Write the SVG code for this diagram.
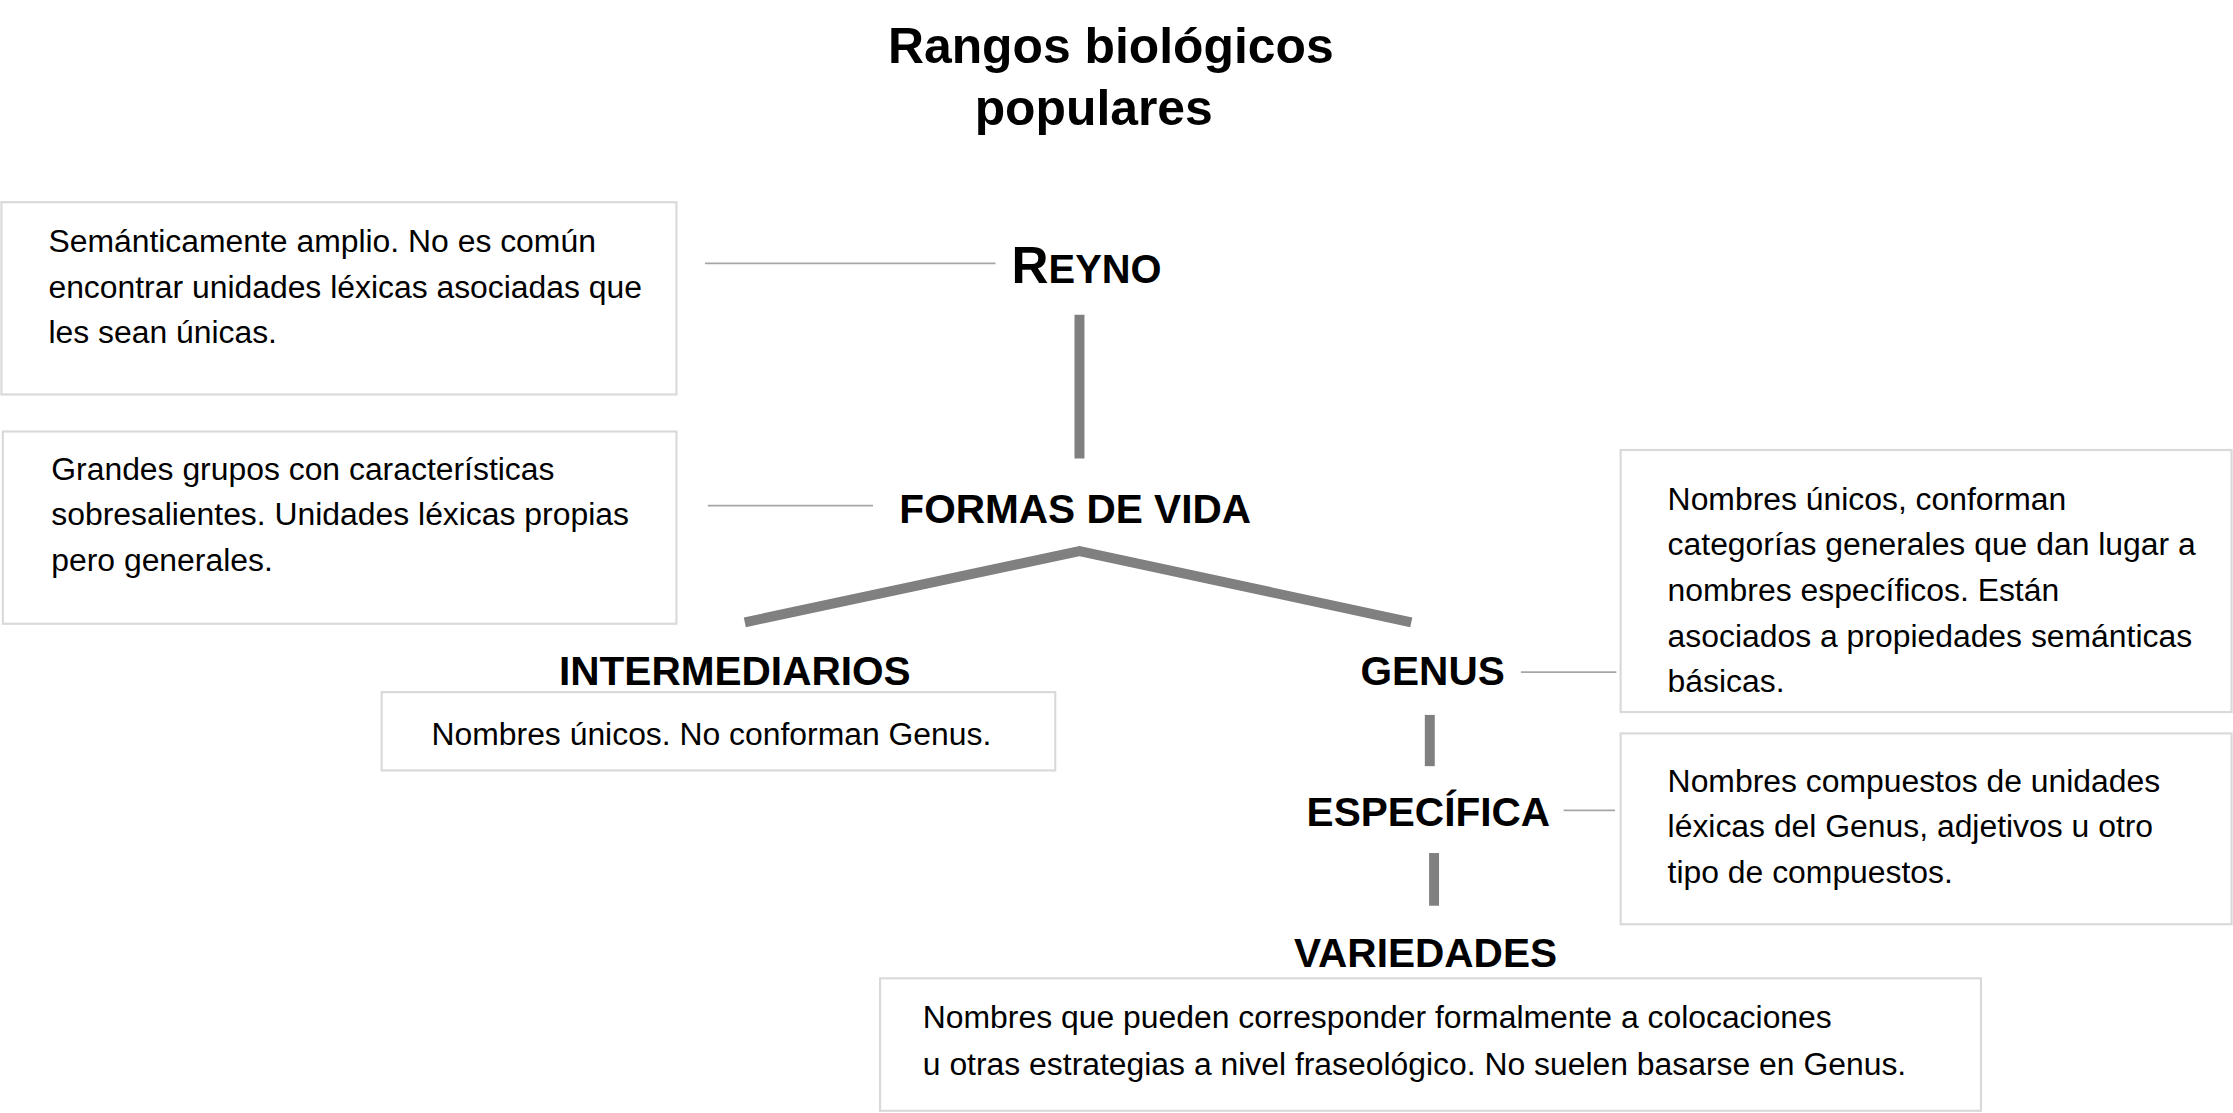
<svg xmlns="http://www.w3.org/2000/svg" width="2233" height="1113" viewBox="0 0 2233 1113">
<style>
.box{fill:#fff;stroke:#d9d9d9;stroke-width:1.5}
.t{font-family:"Liberation Sans",Arial,sans-serif;font-size:22.4px;fill:#000}
.h{font-family:"Liberation Sans",Arial,sans-serif;font-size:28.5px;font-weight:bold;fill:#000;text-anchor:middle}
.thin{stroke:#a6a6a6;stroke-width:1.2;fill:none}
.thick{stroke:#808080;stroke-width:7;fill:none}
</style>
<rect width="2233" height="1113" fill="#fff"/>
<g transform="scale(1.4241)">
<g id="title"><text class="h" x="780" y="44" style="font-size:35px">Rangos biológicos</text><text class="h" x="768" y="88" style="font-size:35px">populares</text></g>
<g id="connectors">
<line class="thin" x1="495" y1="185" x2="699" y2="185"/>
<line class="thin" x1="497" y1="355" x2="613" y2="355"/>
<line class="thin" x1="1068" y1="472" x2="1135" y2="472"/>
<line class="thin" x1="1098" y1="569" x2="1134" y2="569"/>
<line class="thick" x1="758" y1="221" x2="758" y2="322"/>
<polyline class="thick" points="523,437 758,387 991,437"/>
<line class="thick" x1="1004" y1="502" x2="1004" y2="538"/>
<line class="thick" x1="1007" y1="599" x2="1007" y2="636"/>
</g>
<g id="reyno"><text class="h" x="763" y="199"><tspan style="font-size:36px">R</tspan><tspan style="font-size:28px">EYNO</tspan></text></g>
<g id="formas"><text class="h" x="755" y="367">FORMAS DE VIDA</text></g>
<g id="intermediarios"><text class="h" x="516" y="481">INTERMEDIARIOS</text></g>
<g id="genus"><text class="h" x="1006" y="481">GENUS</text></g>
<g id="especifica"><text class="h" x="1003" y="580">ESPECÍFICA</text></g>
<g id="variedades"><text class="h" x="1001" y="679">VARIEDADES</text></g>
<g id="note-reyno"><rect class="box" x="1" y="142" width="474" height="135"/>
<text class="t" x="34" y="177">Semánticamente amplio. No es común</text>
<text class="t" x="34" y="209">encontrar unidades léxicas asociadas que</text>
<text class="t" x="34" y="241">les sean únicas.</text></g>
<g id="note-formas"><rect class="box" x="2" y="303" width="473" height="135"/>
<text class="t" x="36" y="337">Grandes grupos con características</text>
<text class="t" x="36" y="369">sobresalientes. Unidades léxicas propias</text>
<text class="t" x="36" y="401">pero generales.</text></g>
<g id="note-intermediarios"><rect class="box" x="268" y="486" width="473" height="55"/>
<text class="t" x="303" y="523">Nombres únicos. No conforman Genus.</text></g>
<g id="note-genus"><rect class="box" x="1138" y="316" width="429" height="184"/>
<text class="t" x="1171" y="358">Nombres únicos, conforman</text>
<text class="t" x="1171" y="390">categorías generales que dan lugar a</text>
<text class="t" x="1171" y="422">nombres específicos. Están</text>
<text class="t" x="1171" y="454">asociados a propiedades semánticas</text>
<text class="t" x="1171" y="486">básicas.</text></g>
<g id="note-especifica"><rect class="box" x="1138" y="515" width="429" height="134"/>
<text class="t" x="1171" y="556">Nombres compuestos de unidades</text>
<text class="t" x="1171" y="588">léxicas del Genus, adjetivos u otro</text>
<text class="t" x="1171" y="620">tipo de compuestos.</text></g>
<g id="note-variedades"><rect class="box" x="618" y="687" width="773" height="93"/>
<text class="t" x="648" y="722">Nombres que pueden corresponder formalmente a colocaciones</text>
<text class="t" x="648" y="755">u otras estrategias a nivel fraseológico. No suelen basarse en Genus.</text></g>
</g>
</svg>
